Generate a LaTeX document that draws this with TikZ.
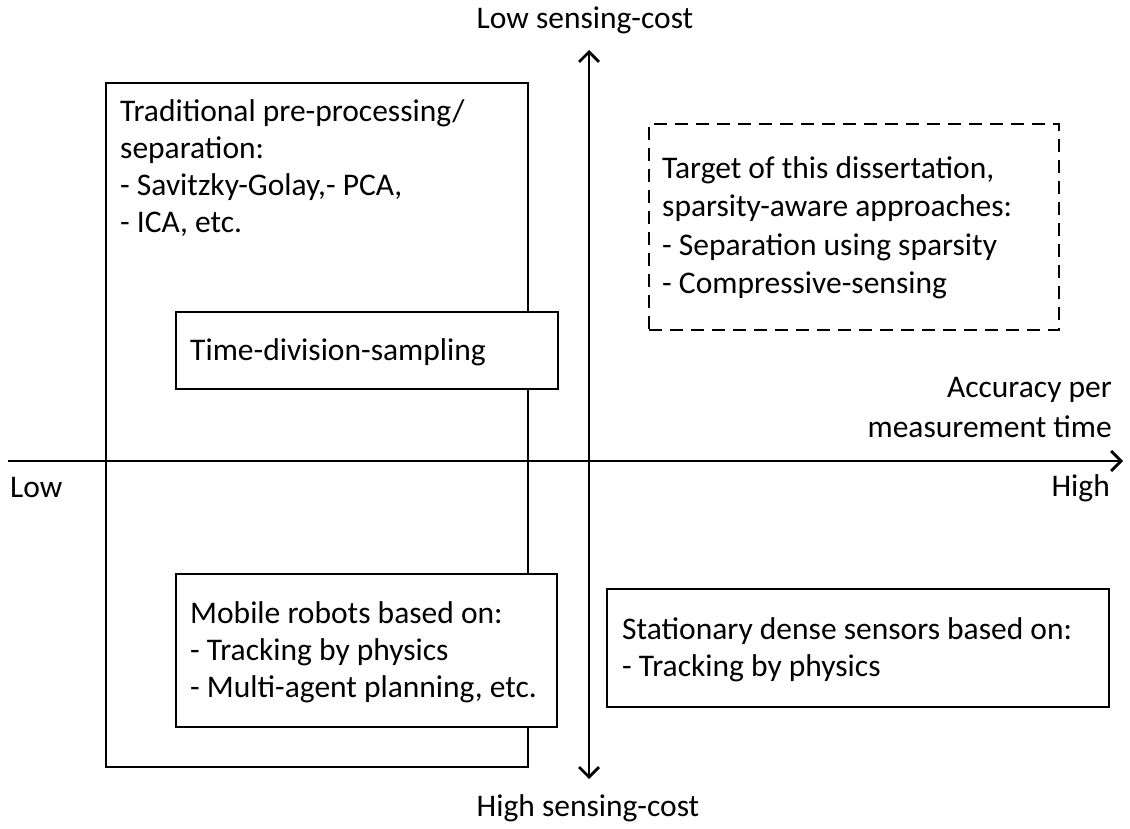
\documentclass[tikz,border=0pt]{standalone}
\usepackage{fontspec}
\setmainfont{Carlito}
\usetikzlibrary{arrows.meta}
\begin{document}
\begin{tikzpicture}[x=1pt,y=-1pt,
  box/.style={draw=black, line width=2.8pt, fill=white, rectangle, inner sep=0pt},
  dbox/.style={draw=black, line width=2.8pt, dash pattern=on 13pt off 8pt, fill=white, rectangle, inner sep=0pt},
  axis/.style={line width=2.8pt, -{Straight Barb[length=10pt,width=20pt,line width=2.8pt]}},
  daxis/.style={line width=2.8pt, {Straight Barb[length=10pt,width=20pt,line width=2.8pt]}-{Straight Barb[length=10pt,width=20pt,line width=2.8pt]}},
  txt/.style={font=\fontsize{31.5}{37}\selectfont, align=left, inner sep=0pt, anchor=west},
  lbl/.style={font=\fontsize{31.5}{40}\selectfont, inner sep=0pt}]
\useasboundingbox (0,0) rectangle (1130,829);
\fill[white] (0,0) rectangle (1130,829);
% big box
\node[box, minimum width=422pt, minimum height=684pt] (big) at (317,425) {};
\node[txt] (bigtxt) at (120,168) {Traditional pre-processing/\\separation:\\- Savitzky-Golay,- PCA,\\- ICA, etc.};
% axes
\coordinate (xl) at (8,461);
\coordinate (xr) at (1123,461);
\coordinate (yt) at (589,50);
\coordinate (yb) at (589,779);
\draw[axis] (xl) -- (xr);
\draw[daxis] (yb) -- (yt);
% inner boxes
\node[box, minimum width=382pt, minimum height=77pt] (tds) at (367,350.5) {};
\node[txt] (tdstxt) at (190,352) {Time-division-sampling};
\node[box, minimum width=381pt, minimum height=153pt] (mob) at (366.5,650.5) {};
\node[txt] (mobtxt) at (190,652) {Mobile robots based on:\\- Tracking by physics\\- Multi-agent planning, etc.};
\node[box, minimum width=502pt, minimum height=118pt] (sta) at (858,648) {};
\node[txt] (statxt) at (622,650) {Stationary dense sensors based on:\\- Tracking by physics};
\node[dbox, minimum width=410pt, minimum height=206pt] (tgt) at (854,227) {};
\node[txt, font=\fontsize{31.5}{38.5}\selectfont] (tgttxt) at (662,228) {Target of this dissertation,\\sparsity-aware approaches:\\- Separation using sparsity\\- Compressive-sensing};
% labels
\node[lbl] (lsc) at (585,20) {Low sensing-cost};
\node[lbl] (hsc) at (588,808) {High sensing-cost};
\node[lbl, align=right, anchor=east] (acc) at (1112,408) {Accuracy per\\measurement time};
\node[lbl, anchor=west] (low) at (10,488) {Low};
\node[lbl, anchor=east] (high) at (1110,488) {High};
\end{tikzpicture}
\end{document}
